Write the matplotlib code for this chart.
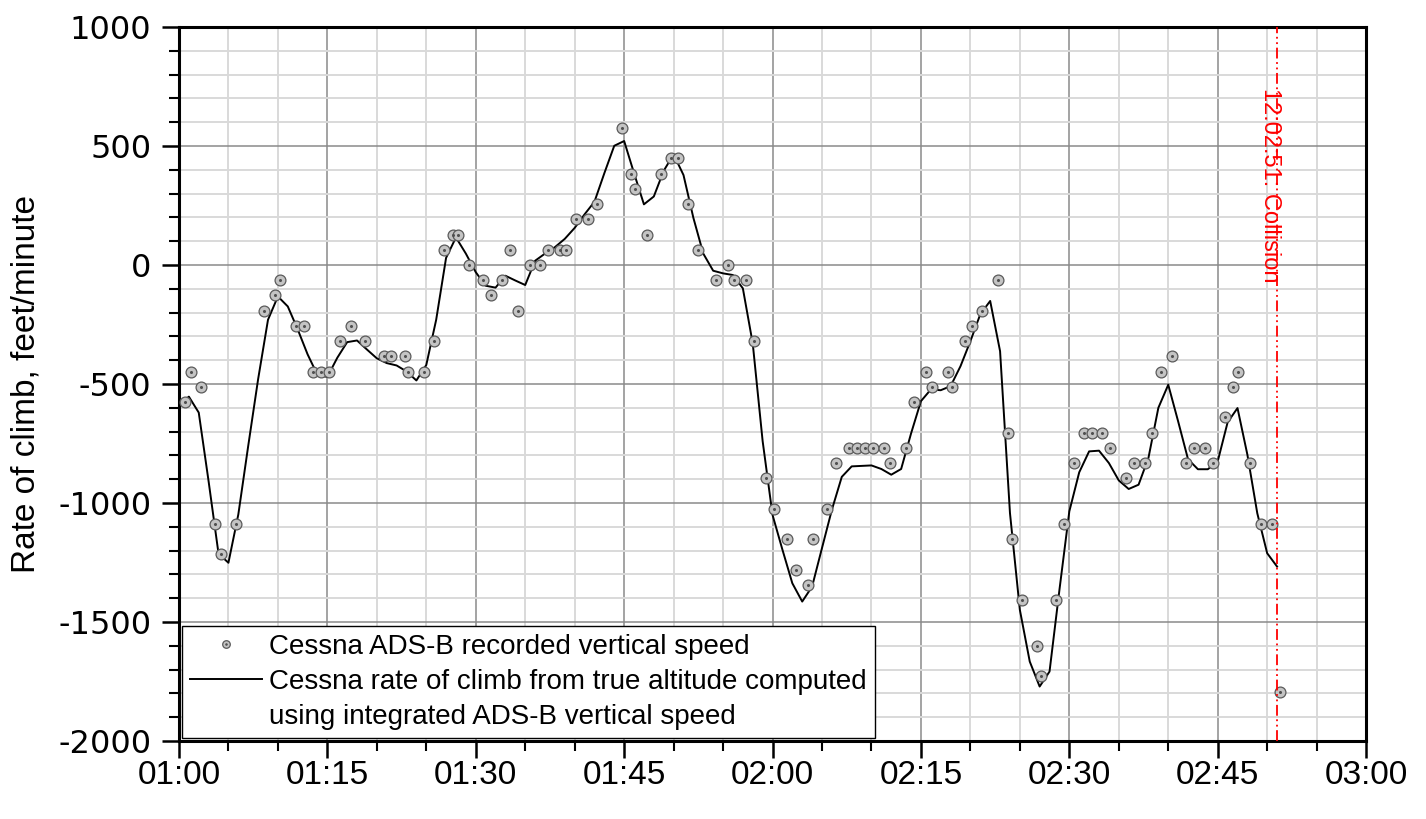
import matplotlib
matplotlib.use("Agg")
from matplotlib import pyplot as plt
from matplotlib.lines import Line2D
from matplotlib.ticker import MultipleLocator, FuncFormatter

plt.rcParams["axes.unicode_minus"] = False

# recorded ADS-B vertical speed (time in seconds after 12:01:00, ft/min)
adsb_t = [60.6, 61.2, 62.2, 63.6, 64.2, 65.8, 68.6, 69.7, 70.2, 71.8, 72.6, 73.5,
          74.4, 75.2, 76.3, 77.4, 78.8, 80.7, 81.4, 82.8, 83.2, 84.8, 85.8, 86.8,
          87.7, 88.2, 89.3, 90.7, 91.5, 92.7, 93.5, 94.3, 95.5, 96.5, 97.3, 98.5,
          99.1, 100.1, 101.3, 102.3, 104.8, 105.7, 106.1, 107.3, 108.7, 109.7, 110.4,
          111.5, 112.5, 114.3, 115.5, 116.1, 117.3, 118.1, 119.3, 120.1, 121.5, 122.4,
          123.6, 124.1, 125.5, 126.4, 127.7, 128.5, 129.3, 130.2, 131.3, 131.9, 133.5,
          134.3, 135.5, 136.1, 137.7, 138.1, 139.5, 140.2, 141.2, 142.8, 143.8, 144.2,
          145.2, 146.7, 147.1, 148.7, 149.5, 150.5, 151.5, 152.3, 153.3, 154.1, 155.7,
          156.5, 157.7, 158.4, 159.3, 160.4, 161.8, 162.6, 163.7, 164.5, 165.7, 166.5,
          167.1, 168.3, 169.4, 170.5, 171.3]
adsb_v = [-576, -448, -512, -1088, -1216, -1088, -192, -128, -64, -256, -256, -448,
          -448, -448, -320, -256, -320, -384, -384, -384, -448, -448, -320, 64,
          128, 128, 0, -64, -128, -64, 64, -192, 0, 0, 64, 64,
          64, 192, 192, 256, 576, 384, 320, 128, 384, 448, 448,
          256, 64, -64, 0, -64, -64, -320, -896, -1024, -1152, -1280,
          -1344, -1152, -1024, -832, -768, -768, -768, -768, -768, -832, -768,
          -576, -448, -512, -448, -512, -320, -256, -192, -64, -704, -1152,
          -1408, -1600, -1728, -1408, -1088, -832, -704, -704, -704, -768, -896,
          -832, -832, -704, -448, -384, -832, -768, -768, -832, -640, -512,
          -448, -832, -1088, -1088, -1792]

# rate of climb from true altitude
roc_t = list(range(60, 172))
roc_v = [-590, -553, -620, -910, -1213, -1251, -1048, -760, -480, -230, -132, -174,
         -270, -375, -462, -470, -390, -324, -317, -355, -392, -412, -422, -447,
         -485, -420, -230, 30, 116, 48, -30, -87, -95, -45, -65, -84,
         18, 48, 75, 110, 156, 213, 266, 386, 501, 521, 386, 255,
         288, 396, 465, 378, 198, 48, -24, -35, -42, -98, -330, -740,
         -1050, -1196, -1337, -1414, -1351, -1189, -1028, -890, -846, -844, -842, -857,
         -881, -857, -708, -572, -523, -526, -509, -425, -320, -207, -151, -362,
         -1042, -1449, -1666, -1771, -1708, -1365, -1035, -871, -783, -780, -832, -905,
         -941, -923, -810, -600, -503, -657, -816, -858, -858, -825, -661, -601,
         -797, -1043, -1211, -1267]

collision_t = 171.0
collision_label = "12:02:51: Collision"
legend_labels = ["Cessna ADS-B recorded vertical speed",
                 "Cessna rate of climb from true altitude computed",
                 "using integrated ADS-B vertical speed"]

sans = ["Liberation Sans", "DejaVu Sans"]


def mmss(x, pos):
    x = int(round(x))
    return "%02d:%02d" % (x // 60, x % 60)


fig = plt.figure(figsize=(14.26, 8.19), dpi=100)
ax = fig.add_axes([0.1255, 0.0952, 0.8325, 0.8718])

ax.set_xlim(60, 180)
ax.set_ylim(-2000, 1000)
ax.xaxis.set_major_locator(MultipleLocator(15))
ax.xaxis.set_minor_locator(MultipleLocator(5))
ax.yaxis.set_major_locator(MultipleLocator(500))
ax.yaxis.set_minor_locator(MultipleLocator(100))
ax.xaxis.set_major_formatter(FuncFormatter(mmss))

ax.grid(which="minor", color="#d9d9d9", linewidth=1.4, zorder=0)
ax.grid(which="major", color="#8a8a8a", linewidth=1.1, zorder=0)
ax.set_axisbelow(True)

for s in ax.spines.values():
    s.set_linewidth(2.2)
    s.set_color("black")

ax.tick_params(axis="both", which="major", direction="out", length=12, width=1.8)
ax.tick_params(axis="both", which="minor", direction="out", length=7, width=1.5)
ax.tick_params(axis="x", which="both", top=False)
ax.tick_params(axis="y", which="both", right=False)
ax.tick_params(axis="y", labelsize=23, pad=8)
ax.tick_params(axis="x", labelsize=24, pad=2)
for lab in ax.get_xticklabels():
    lab.set_family(sans)
for lab in ax.get_yticklabels():
    lab.set_family(["DejaVu Sans"])

ax.set_ylabel("Rate of climb, feet/minute", fontsize=24, family=sans, labelpad=12)

line, = ax.plot(roc_t, roc_v, color="black", linewidth=1.4, zorder=3)
pts, = ax.plot(adsb_t, adsb_v, linestyle="none", marker="o", markersize=7.8,
               markerfacecolor="#c4c4c4", markeredgecolor="#5a5a5a",
               markeredgewidth=0.9, zorder=4)
dots, = ax.plot(adsb_t, adsb_v, linestyle="none", marker="o", markersize=1.2,
                markerfacecolor="#505050", markeredgecolor="#505050", zorder=5)

ax.axvline(collision_t, color="red", linestyle=(0, (6, 2, 1, 2, 1, 2)),
           linewidth=1.3, zorder=6)
ax.text(collision_t - 0.7, 745, collision_label, rotation=-90, color="red",
        fontsize=17, ha="center", va="top", family=sans, zorder=7)

blank = Line2D([], [], linestyle="none")
leg = ax.legend([(pts, dots), line, blank], legend_labels,
                loc="lower left", bbox_to_anchor=(0, 0), borderaxespad=0.1,
                fancybox=False, framealpha=1, edgecolor="black", markerscale=0.7,
                handlelength=2.6, handletextpad=0.25, labelspacing=0.32,
                borderpad=0.3, prop={"family": sans, "size": 20})
leg.get_frame().set_linewidth(1.0)
leg.set_zorder(10)

fig.savefig("out.png", dpi=100)
